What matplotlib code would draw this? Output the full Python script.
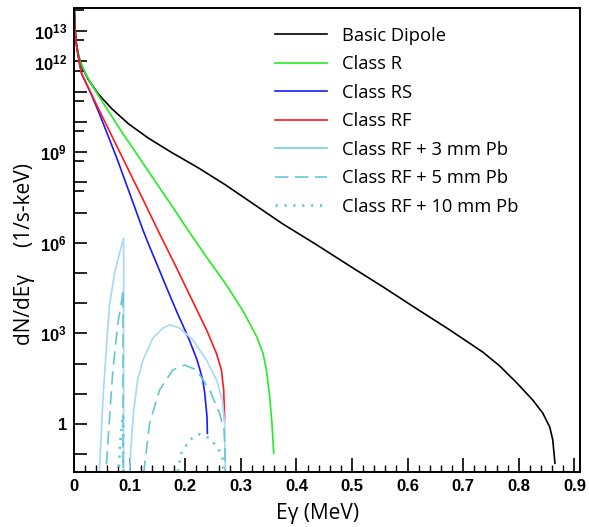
import numpy as np
import matplotlib
matplotlib.use('Agg')
import matplotlib.pyplot as plt
from matplotlib.ticker import FixedLocator, MultipleLocator, FuncFormatter

plt.rcParams['mathtext.fontset'] = 'custom'
plt.rcParams['mathtext.bf'] = 'Liberation Sans:bold'
plt.rcParams['mathtext.rm'] = 'Liberation Sans'

# spectra (E in MeV, dN/dE in 1/s-keV)
E_dipole = [0, 0.0007, 0.0018, 0.0036, 0.0079, 0.0138, 0.0259, 0.0439, 0.0678, 0.0978, 0.1338,
            0.1757, 0.2237, 0.2716, 0.3196, 0.3754, 0.4365, 0.4959, 0.5552, 0.6164, 0.6757,
            0.7351, 0.7657, 0.7962, 0.825, 0.843, 0.8556, 0.861, 0.865]
N_dipole = [5.6e13, 4.7e13, 1.3e13, 4.7e12, 1.7e12, 6.9e11, 2.5e11, 8.3e10, 2.75e10, 8.7e9, 2.9e9,
            9.7e8, 3e8, 8.4e7, 2.1e7, 4.2e6, 8.5e5, 1.7e5, 3.5e4, 6.5e3, 1.3e3,
            240, 83, 23, 6.2, 2.3, 0.79, 0.3, 0.05]

E_R = [0, 0.0007, 0.0018, 0.0036, 0.0079, 0.0108, 0.021, 0.0318, 0.0558, 0.0858, 0.1158, 0.1457,
       0.1788, 0.196, 0.2381, 0.2741, 0.304, 0.328, 0.34, 0.346, 0.352, 0.356, 0.3592]
N_R = [5.6e13, 4.7e13, 1.3e13, 4.7e12, 1.7e12, 1.05e12, 3.9e11, 1.7e11, 3.4e10, 4.7e9, 7.2e8, 1.1e8,
       1.4e7, 4.6e6, 3.4e5, 4e4, 5.5e3, 813, 219, 62, 7.9, 1.05, 0.107]

E_RS = [0, 0.0007, 0.0018, 0.0036, 0.0054, 0.0079, 0.0108, 0.0138, 0.0228, 0.0318, 0.046, 0.0768,
        0.1038, 0.1241, 0.1362, 0.1541, 0.1667, 0.1842, 0.1955, 0.2081, 0.2207, 0.2261, 0.2315,
        0.2351, 0.2392, 0.2399]
N_RS = [5.6e13, 4.7e13, 1.3e13, 4.8e12, 2.6e12, 1.4e12, 7.1e11, 3.9e11, 1.74e11, 7.6e10, 1.8e10, 6.5e8,
        2.8e7, 2.6e6, 7.2e5, 1.17e5, 3.2e4, 5.5e3, 1.9e3, 562, 141, 66, 29,
        10.7, 1.74, 0.49]

E_RF = [0, 0.0007, 0.0018, 0.0036, 0.0054, 0.0079, 0.0108, 0.0138, 0.046, 0.0858, 0.1241, 0.1541,
        0.1842, 0.214, 0.2387, 0.2561, 0.2651, 0.2692, 0.271]
N_RF = [5.6e13, 4.7e13, 1.3e13, 4.8e12, 2.6e12, 1.4e12, 7.1e11, 3.9e11, 2.3e10, 7.4e8, 2.7e7, 1.95e6,
        1.5e5, 1.1e4, 1.26e3, 219, 62, 13.5, 1.35]

E_3mm = [0.0445, 0.052, 0.058, 0.064, 0.073, 0.082, 0.0893, 0.0893,
         0.099, 0.102, 0.1074, 0.1146, 0.1241, 0.1421, 0.1601, 0.1721, 0.1901, 0.214, 0.2381,
         0.2561, 0.2669, 0.271, 0.2722]
N_3mm = [0.01, 6.2, 282, 8.9e3, 1e5, 4.6e5, 1.4e6, 0.01,
         0.01, 0.138, 2.9, 29, 132, 708, 1.5e3, 1.9e3, 1.5e3, 600, 132,
         29, 6.2, 1.05, 0.01]

E_5mm = [0.056, 0.064, 0.07, 0.079, 0.086, 0.0882, 0.0882,
         0.123, 0.136, 0.154, 0.178, 0.199, 0.22, 0.244, 0.262, 0.27, 0.272, 0.2725]
N_5mm = [0.01, 1.7, 62, 2.2e3, 1.26e4, 2.75e4, 0.01,
         0.01, 1.05, 13.5, 62, 89, 62, 13.5, 2.2, 0.63, 0.065, 0.01]

E_10mm = [0.079, 0.083, 0.087, 0.0885, 0.0885, 0.182, 0.193, 0.208, 0.226, 0.244, 0.259, 0.268, 0.27]
N_10mm = [0.01, 0.23, 1.26, 2.0, 0.01, 0.01, 0.107, 0.3, 0.46, 0.34, 0.16, 0.065, 0.01]

labels = ['Basic Dipole', 'Class R', 'Class RS', 'Class RF',
          'Class RF + 3 mm Pb', 'Class RF + 5 mm Pb', 'Class RF + 10 mm Pb']

ytick_decades = list(range(-1, 14))
ytick_half = [7, 8, 9, 10, 11, 12, 13]   # extra 5x10^n ticks in the upper part
ylabel_decades = [0, 3, 6, 9, 12, 13]

fig = plt.figure(figsize=(5.89, 5.27), dpi=100)
ax = fig.add_axes([0.1256, 0.1044, 0.8591, 0.8804])

lw = 1.2
ax.plot(E_dipole, N_dipole, color='black', lw=lw, label=labels[0])
ax.plot(E_R, N_R, color='#22ee22', lw=lw, label=labels[1])
ax.plot(E_RS, N_RS, color='#1a1aff', lw=lw, label=labels[2])
ax.plot(E_RF, N_RF, color='#ff1a1a', lw=lw, label=labels[3])
ax.plot(E_3mm, N_3mm, color='#a6d8f7', lw=lw, label=labels[4])
ax.plot(E_5mm, N_5mm, color='#66c6d6', lw=lw, dashes=(8, 4), label=labels[5])
ax.plot(E_10mm, N_10mm, color='#66ccdc', lw=2.0, dashes=(0.8, 2.4), label=labels[6])

ax.set_yscale('log')
ax.set_xlim(0, 0.91)
ax.set_ylim(10**-1.59, 10**13.77)

# ticks
ax.xaxis.set_major_locator(MultipleLocator(0.1))
ax.xaxis.set_minor_locator(MultipleLocator(0.02))
ax.xaxis.set_major_formatter(FuncFormatter(lambda v, p: '0' if abs(v) < 1e-9 else ('%.1f' % v)))
ax.yaxis.set_major_locator(FixedLocator([10.0**d for d in ytick_decades]))
ax.yaxis.set_minor_locator(FixedLocator([5 * 10.0**d for d in ytick_half]))
ax.yaxis.set_minor_formatter(FuncFormatter(lambda v, p: ''))


def yfmt(v, p):
    d = int(round(np.log10(v)))
    if d not in ylabel_decades:
        return ''
    if d == 0:
        return '1'
    return r'$\mathbf{10^{%d}}$' % d


ax.yaxis.set_major_formatter(FuncFormatter(yfmt))
ax.tick_params(axis='x', which='major', direction='in', length=10, width=1.2, pad=5)
ax.tick_params(axis='x', which='minor', direction='in', length=5, width=1.0)
ax.tick_params(axis='y', which='major', direction='in', length=9, width=1.2, pad=5)
ax.tick_params(axis='y', which='minor', direction='in', length=7, width=1.2)
for lab in ax.get_xticklabels() + ax.get_yticklabels():
    lab.set_fontfamily('Liberation Sans')
    lab.set_fontweight('bold')
    lab.set_fontsize(12)

for s in ax.spines.values():
    s.set_linewidth(1.4)

ax.set_xlabel('E\u03b3 (MeV)', fontfamily='Open Sans', fontsize=15)
ax.xaxis.set_label_coords(0.481, -0.066)
ax.set_ylabel('dN/dE\u03b3     (1/s-keV)', fontfamily='Open Sans', fontsize=15)
ax.yaxis.set_label_coords(-0.077, 0.47)

leg = ax.legend(loc='upper left', bbox_to_anchor=(0.398, 0.9595), frameon=False,
                prop={'family': 'Open Sans', 'size': 13.2}, handlelength=2.8,
                handletextpad=0.82, labelspacing=0.57, borderpad=0, borderaxespad=0)
leg.legend_handles[4].set_color('#70d0e0')

fig.savefig('out.png', dpi=100)
